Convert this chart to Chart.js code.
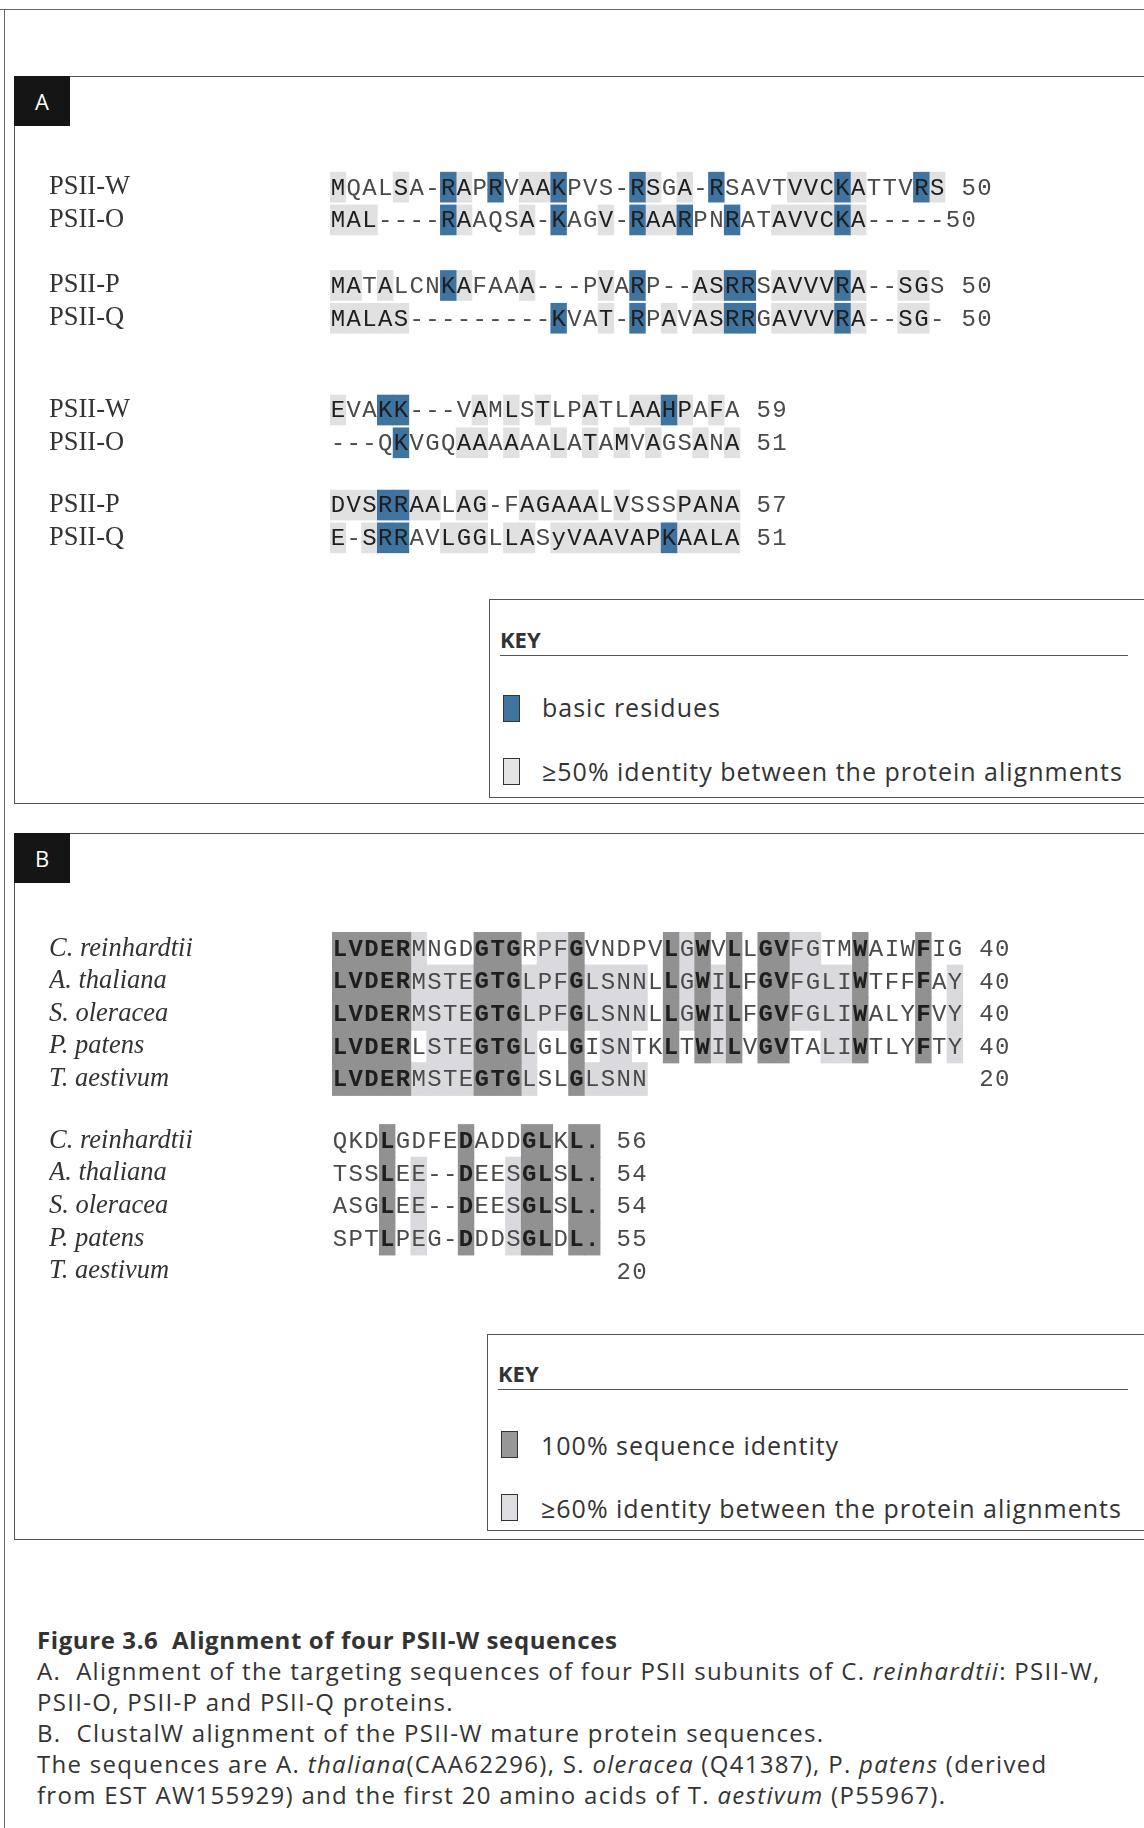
<!DOCTYPE html>
<html>
<head>
<meta charset="utf-8">
<title>Figure 3.6</title>
<script src="https://cdn.jsdelivr.net/npm/chart.js@4.4.0/dist/chart.umd.min.js"></script>
<style>
  body { margin: 0; width: 1144px; height: 1828px; position: relative; overflow: hidden; background: #fff; font-family: "Open Sans", sans-serif; color: #333; }
  .abs { position: absolute; }
  .hline { height: 0; border-top: 1.5px solid #555; }
  .vline { width: 0; border-left: 1.5px solid #666; }
  .panel { left: 14px; width: 1140px; border: 1.5px solid #555; box-sizing: border-box; }
  .tag { left: 14px; width: 56px; height: 50px; background: #151515; color: #fff; font-size: 22px; line-height: 50px; text-align: center; }
  .key { border: 1.5px solid #555; box-sizing: border-box; background: #fff; }
  .keyhead { font-weight: 700; font-size: 22px; line-height: 28px; }
  .keytxt { font-size: 25px; line-height: 30px; letter-spacing: 1px; white-space: nowrap; }
  .sw { width: 15px; height: 25px; border: 1.5px solid #333; }
  .cap { left: 37px; font-size: 24px; line-height: 31px; letter-spacing: 1.3px; white-space: nowrap; color: #333; }
  .chartbox { left: 49px; width: 1095px; }
</style>
</head>
<body>
<!-- outer frame -->
<div class="abs hline" style="left:0;top:9px;width:1144px;border-top-color:#666"></div>
<div class="abs vline" style="left:4px;top:9px;height:1819px"></div>

<!-- panel A -->
<div class="abs panel" style="top:76px;height:728px"></div>
<div class="abs tag" style="top:76px">A</div>
<div class="abs chartbox" style="top:138px;height:449px"><canvas id="chartA"></canvas></div>
<div class="abs key" style="left:489px;top:599px;width:660px;height:199px"></div>
<div class="abs keyhead" style="left:500px;top:625px">KEY</div>
<div class="abs hline" style="left:500px;top:655px;width:628px"></div>
<div class="abs sw" style="left:503px;top:695px;background:#3f73a0"></div>
<div class="abs keytxt" style="left:542px;top:692px">basic residues</div>
<div class="abs sw" style="left:503px;top:758px;background:#e4e4e4"></div>
<div class="abs keytxt" style="left:542px;top:756px">≥50% identity between the protein alignments</div>

<!-- panel B -->
<div class="abs panel" style="top:833px;height:707px"></div>
<div class="abs tag" style="top:833px">B</div>
<div class="abs chartbox" style="top:900px;height:420px"><canvas id="chartB"></canvas></div>
<div class="abs key" style="left:487px;top:1334px;width:660px;height:197px"></div>
<div class="abs keyhead" style="left:498px;top:1359px">KEY</div>
<div class="abs hline" style="left:498px;top:1389px;width:630px"></div>
<div class="abs sw" style="left:501px;top:1431px;background:#979797"></div>
<div class="abs keytxt" style="left:541px;top:1430px">100% sequence identity</div>
<div class="abs sw" style="left:501px;top:1494px;background:#dedee2"></div>
<div class="abs keytxt" style="left:541px;top:1493px">≥60% identity between the protein alignments</div>

<!-- caption -->
<div class="abs cap" style="top:1624px;font-weight:700;letter-spacing:0.6px">Figure 3.6&nbsp; Alignment of four PSII-W sequences</div>
<div class="abs cap" style="top:1655px">A.&nbsp; Alignment of the targeting sequences of four PSII subunits of C. <i>reinhardtii</i>: PSII-W,</div>
<div class="abs cap" style="top:1686px">PSII-O, PSII-P and PSII-Q proteins.</div>
<div class="abs cap" style="top:1717px">B.&nbsp; ClustalW alignment of the PSII-W mature protein sequences.</div>
<div class="abs cap" style="top:1748px">The sequences are A. <i>thaliana</i>(CAA62296), S. <i>oleracea</i> (Q41387), P. <i>patens</i> (derived</div>
<div class="abs cap" style="top:1779px">from EST AW155929) and the first 20 amino acids of T. <i>aestivum</i> (P55967).</div>

<script>
// ---- panel A: targeting sequences ----
const namesA = ["PSII-W", "PSII-O", "PSII-P", "PSII-Q", "PSII-W", "PSII-O", "PSII-P", "PSII-Q"];
const rowsA = [0, 1, 3, 4, 6.8, 7.8, 9.7, 10.7];
const seqA = [
  "MQALSA-RAPRVAAKPVS-RSGA-RSAVTVVCKATTVRS 50",
  "MAL----RAAQSA-KAGV-RAARPNRATAVVCKA-----50",
  "MATALCNKAFAAA---PVARP--ASRRSAVVVRA--SGS 50",
  "MALAS---------KVAT-RPAVASRRGAVVVRA--SG- 50",
  "EVAKK---VAMLSTLPATLAAHPAFA 59",
  "---QKVGQAAAAAALATAMVAGSANA 51",
  "DVSRRAALAG-FAGAAALVSSSPANA 57",
  "E-SRRAVLGGLLASyVAAVAPKAALA 51"
];
// basic residues (blue), by row
const basicA = [
  [7, 10, 14, 19, 24, 32, 37],
  [7, 14, 19, 22, 25, 32],
  [7, 19, 25, 26, 32],
  [14, 19, 25, 26, 32],
  [3, 4, 21],
  [4],
  [3, 4],
  [3, 4, 21]
];
// >=50% identity (light grey), by row
const identA = [
  [0, 4, 8, 12, 13, 20, 22, 29, 30, 31, 33, 38],
  [0, 1, 2, 8, 12, 17, 20, 21, 28, 29, 30, 31, 33],
  [0, 1, 3, 8, 12, 17, 23, 24, 28, 29, 30, 31, 33, 36, 37],
  [0, 1, 2, 3, 4, 17, 21, 23, 24, 28, 29, 30, 31, 33, 36, 37],
  [0, 9, 11, 13, 16, 19, 20, 22, 24],
  [8, 9, 11, 14, 16, 18, 20, 23, 25],
  [0, 1, 2, 5, 6, 8, 9, 12, 13, 14, 15, 16, 18, 22, 23, 24, 25],
  [0, 2, 7, 8, 9, 11, 12, 14, 15, 16, 17, 18, 19, 20, 22, 23, 24, 25]
];

// ---- panel B: ClustalW of mature PSII-W ----
const namesB = ["C. reinhardtii", "A. thaliana", "S. oleracea", "P. patens", "T. aestivum",
                "C. reinhardtii", "A. thaliana", "S. oleracea", "P. patens", "T. aestivum"];
const rowsB = [0, 1, 2, 3, 4, 5.9, 6.9, 7.9, 8.9, 9.9];
const seqB = [
  "LVDERMNGDGTGRPFGVNDPVLGWVLLGVFGTMWAIWFIG 40",
  "LVDERMSTEGTGLPFGLSNNLLGWILFGVFGLIWTFFFAY 40",
  "LVDERMSTEGTGLPFGLSNNLLGWILFGVFGLIWALYFVY 40",
  "LVDERLSTEGTGLGLGISNTKLTWILVGVTALIWTLYFTY 40",
  "LVDERMSTEGTGLSLGLSNN                     20",
  "QKDLGDFEDADDGLKL. 56",
  "TSSLEE--DEESGLSL. 54",
  "ASGLEE--DEESGLSL. 54",
  "SPTLPEG-DDDSGLDL. 55",
  "                  20"
];
// 100% identity (dark grey), by row
const fullB = [
  [0, 1, 2, 3, 4, 9, 10, 11, 15, 21, 23, 25, 27, 28, 33, 37],
  [0, 1, 2, 3, 4, 9, 10, 11, 15, 21, 23, 25, 27, 28, 33, 37],
  [0, 1, 2, 3, 4, 9, 10, 11, 15, 21, 23, 25, 27, 28, 33, 37],
  [0, 1, 2, 3, 4, 9, 10, 11, 15, 21, 23, 25, 27, 28, 33, 37],
  [0, 1, 2, 3, 4, 9, 10, 11, 15],
  [3, 8, 12, 13, 15, 16],
  [3, 8, 12, 13, 15, 16],
  [3, 8, 12, 13, 15, 16],
  [3, 8, 12, 13, 15, 16],
  []
];
// >=60% identity (light grey), by row
const partB = [
  [5, 13, 14, 22, 29, 30],
  [5, 6, 7, 8, 12, 13, 14, 16, 17, 18, 19, 22, 24, 29, 30, 31, 32, 39],
  [5, 6, 7, 8, 12, 13, 14, 16, 17, 18, 19, 22, 24, 29, 30, 31, 32, 39],
  [6, 7, 8, 12, 17, 18, 24, 31, 32, 39],
  [5, 6, 7, 8, 12, 16, 17, 18, 19],
  [],
  [5, 11],
  [5, 11],
  [5, 11],
  []
];

// one floating horizontal bar per shaded residue
function cells(list, rows) {
  const out = [];
  list.forEach((cols, r) => {
    cols.forEach((c) => out.push({ y: rows[r], x: [c - 0.5, c + 0.5] }));
  });
  return out;
}

// draws the residue letters on the column/row grid of the chart
// boldLists -> bold letters, darkLists -> darker (shaded) letters
function residuePlugin(lines, rows, boldLists, darkLists) {
  return {
    id: "residues",
    afterDatasetsDraw(chart) {
      const ctx = chart.ctx;
      const xs = chart.scales.x;
      const ys = chart.scales.y;
      ctx.save();
      ctx.textAlign = "center";
      ctx.textBaseline = "middle";
      lines.forEach((line, r) => {
        const yy = ys.getPixelForValue(rows[r]) + 1;
        for (let c = 0; c < line.length; c++) {
          const ch = line[c];
          if (ch === " ") continue;
          const bold = boldLists.some((l) => l[r].includes(c));
          const dark = bold || darkLists.some((l) => l[r].includes(c));
          ctx.font = (bold ? "bold " : "") + "24px 'Liberation Mono', 'Courier New', monospace";
          ctx.fillStyle = dark ? "#1e1e1e" : "#4a4a4a";
          ctx.fillText(ch, xs.getPixelForValue(c), yy);
        }
      });
      ctx.restore();
    }
  };
}

function makeChart(id, names, rows, yMin, yMax, xMax, axisWidth, italic, datasets, plugin) {
  return new Chart(document.getElementById(id), {
    type: "bar",
    data: { datasets: datasets },
    options: {
      indexAxis: "y",
      responsive: true,
      maintainAspectRatio: false,
      animation: false,
      layout: { padding: 0, autoPadding: false },
      plugins: { legend: { display: false }, tooltip: { enabled: false } },
      scales: {
        x: { type: "linear", display: false, offset: false, min: -0.5, max: xMax },
        y: {
          type: "linear",
          reverse: true,
          offset: false,
          min: yMin,
          max: yMax,
          afterFit: (s) => {
            s.width = axisWidth;
            // the row labels sit well inside the plot, no extra room needed
            s.paddingTop = 0;
            s.paddingBottom = 0;
          },
          afterBuildTicks: (s) => { s.ticks = rows.map((v) => ({ value: v })); },
          grid: { display: false, drawTicks: false, offset: false },
          border: { display: false },
          ticks: {
            autoSkip: false,
            crossAlign: "far",
            padding: 0,
            color: "#333",
            font: { family: "'Liberation Serif', 'Times New Roman', serif", size: 26.5, style: italic ? "italic" : "normal" },
            callback: (v, i) => names[i]
          }
        }
      }
    },
    plugins: [plugin]
  });
}

makeChart("chartA", namesA, rowsA, -1.5, 12.2, 51.12, 281, false, [
  { label: "basic residues", data: cells(basicA, rowsA), backgroundColor: "#3f73a0", barThickness: 30, grouped: false, borderWidth: 0 },
  { label: "≥50% identity", data: cells(identA, rowsA), backgroundColor: "#e1e1e1", barThickness: 30, grouped: false, borderWidth: 0 }
], residuePlugin(seqA, rowsA, [], [basicA, identA]));

makeChart("chartB", namesB, rowsB, -1.5, 11.4, 50.99, 283, true, [
  { label: "100% sequence identity", data: cells(fullB, rowsB), backgroundColor: "#919191", barThickness: 33, grouped: false, borderWidth: 0 },
  { label: "≥60% identity", data: cells(partB, rowsB), backgroundColor: "#dadade", barThickness: 33, grouped: false, borderWidth: 0 }
], residuePlugin(seqB, rowsB, [fullB], []));
</script>
</body>
</html>
